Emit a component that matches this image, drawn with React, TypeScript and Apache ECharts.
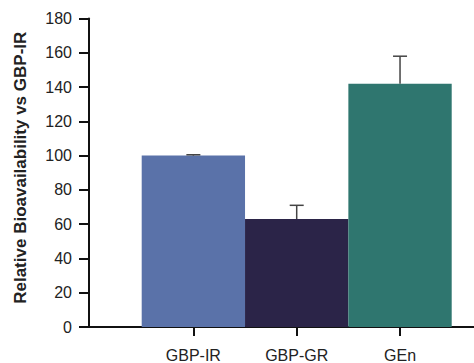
import React, { useEffect, useRef } from "react";
import * as echarts from "echarts";

const categories: string[] = ["GBP-IR", "GBP-GR", "GEn"];
const values: number[] = [100, 63, 142];
const errors: number[] = [0.5, 8, 16];
const barColors: string[] = ["#5a72a9", "#2b2448", "#2f766f"];
const yTicks = { min: 0, max: 180, interval: 20 };
const yTitle = "Relative Bioavailability vs GBP-IR";

const FONT = "'Liberation Sans', Arial, Helvetica, sans-serif";

export default function App() {
  const ref = useRef<HTMLDivElement>(null);
  useEffect(() => {
    document.body.style.margin = "0";
    if (!ref.current) return;
    const chart = echarts.init(ref.current, undefined, { renderer: "svg" });
    const top = 18.5;
    const bottom = 36;
    const option: any = {
      animation: false,
      backgroundColor: "#ffffff",
      grid: [
        { left: 89, right: 0, top, bottom },
        { left: 141.7, right: 22.3, top, bottom },
      ],
      xAxis: [
        {
          gridIndex: 0,
          type: "category",
          data: categories,
          axisLine: { show: true, lineStyle: { color: "#111", width: 2 } },
          axisTick: { show: false },
          axisLabel: { show: false },
          splitLine: { show: false },
        },
        {
          gridIndex: 1,
          type: "category",
          data: categories,
          axisLine: { show: false },
          axisTick: { show: true, alignWithLabel: true, length: 9, lineStyle: { color: "#111", width: 2 } },
          axisLabel: { show: true, margin: 20, fontSize: 16, color: "#222", fontFamily: FONT },
          splitLine: { show: false },
        },
      ],
      yAxis: [
        {
          gridIndex: 0,
          type: "value",
          min: yTicks.min,
          max: yTicks.max,
          interval: yTicks.interval,
          name: yTitle,
          nameLocation: "middle",
          nameGap: 60,
          nameTextStyle: {
            fontSize: 17,
            fontWeight: "bold",
            color: "#222",
            fontFamily: FONT,
            padding: [0, 0, 0, 10],
          },
          axisLine: { show: true, lineStyle: { color: "#111", width: 2 } },
          axisTick: { show: true, length: 10, lineStyle: { color: "#111", width: 2 } },
          axisLabel: { fontSize: 16, color: "#222", margin: 17, fontFamily: FONT },
          splitLine: { show: false },
        },
        {
          gridIndex: 1,
          type: "value",
          min: yTicks.min,
          max: yTicks.max,
          interval: yTicks.interval,
          show: false,
          splitLine: { show: false },
        },
      ],
      series: [
        {
          type: "bar",
          xAxisIndex: 1,
          yAxisIndex: 1,
          barWidth: "100%",
          barCategoryGap: "0%",
          data: values.map((v, i) => ({ value: v, itemStyle: { color: barColors[i] } })),
          z: 2,
        },
        {
          type: "custom",
          xAxisIndex: 1,
          yAxisIndex: 1,
          data: values.map((v, i) => [i, v, errors[i]]),
          z: 3,
          renderItem: (params: any, api: any) => {
            const idx = api.value(0);
            const v = api.value(1);
            const e = api.value(2);
            const p0 = api.coord([idx, v]);
            const p1 = api.coord([idx, v + e]);
            const half = 7;
            const style = { stroke: "#444", lineWidth: 1.5 };
            return {
              type: "group",
              children: [
                { type: "line", shape: { x1: p0[0], y1: p0[1], x2: p1[0], y2: p1[1] }, style },
                { type: "line", shape: { x1: p1[0] - half, y1: p1[1], x2: p1[0] + half, y2: p1[1] }, style },
              ],
            };
          },
        },
      ],
    };
    chart.setOption(option);
    return () => chart.dispose();
  }, []);
  return <div ref={ref} style={{ width: 474, height: 363 }} />;
}
